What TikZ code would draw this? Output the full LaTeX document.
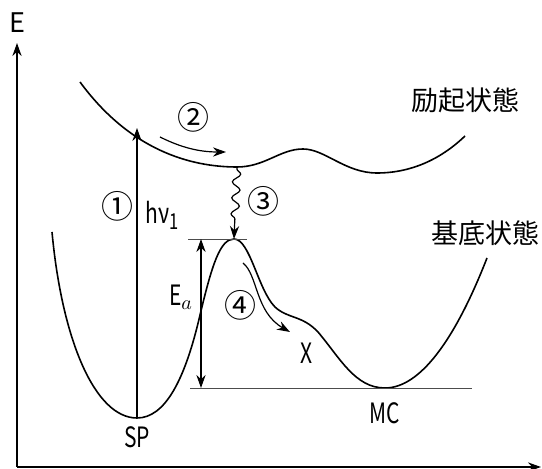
\documentclass[tikz,border=0pt]{standalone}
\usepackage{fontspec}
\setmainfont{Noto Sans CJK JP}
\newfontfamily\condfont[FakeStretch=0.75]{Noto Sans CJK JP}
\usetikzlibrary{arrows.meta,decorations.pathmorphing}

\tikzset{
  pes/.style={line width=0.8pt},
  guide/.style={line width=0.45pt, black!70},
  arr/.style={-{Stealth[length=6.5pt,width=4.6pt]}, line width=0.6pt},
  lbl/.style={font=\condfont\fontsize{14}{14}\selectfont, inner sep=0pt},
  circ/.style={font=\fontsize{16}{16}\selectfont, inner sep=0pt},
  statelbl/.style={font=\fontsize{13.5}{14}\selectfont, inner sep=0pt},
}

\begin{document}
\begin{tikzpicture}[x=0.5pt, y=-0.5pt]
    \useasboundingbox (0,0) rectangle (542,469);

    % axes
    \coordinate (O) at (17,467);
    \coordinate (Etop) at (17,43);
    \coordinate (Xend) at (541,467);
    \draw[arr, line width=0.8pt] (O) -- (Etop);
    \draw[arr, line width=0.8pt] (O) -- (Xend);
    \node[inner sep=0pt, font=\fontsize{13.5}{14}\selectfont] (E) at (17,23) {E};

    % excited state
    \draw[pes] (80,82) .. controls (130,150) and (190,167) .. (237,167)
        .. controls (265,167) and (280,149) .. (303,149)
        .. controls (325,149) and (345,173) .. (377,173)
        .. controls (410,173) and (440,160) .. (465,136);

    % ground state
    \draw[pes] (52,232) .. controls (62,340) and (95,418) .. (137,418)
        .. controls (165,418) and (185,380) .. (200,315)
        .. controls (212,265) and (220,239) .. (234,239)
        .. controls (250,239) and (258,290) .. (275,307)
        .. controls (288,319) and (302,315) .. (318,332)
        .. controls (340,358) and (355,388) .. (385,388)
        .. controls (420,388) and (455,340) .. (487,258);

    \coordinate (SP) at (137,418);
    \coordinate (MC) at (385,388);
    \coordinate (TS) at (234,239);
    \coordinate (Smin) at (237,167);

    % reference levels
    \draw[guide] (188,239) -- (247,239);
    \draw[guide] (190,388) -- (472,388);

    % (1) absorption
    \coordinate (hvtop) at (137,128);
    \draw[arr] (SP) -- (hvtop);
    \node[circ] (n1) at (117,206) {①};
    \node[lbl, anchor=base west] (hv) at (145,224) {hν\raisebox{-0.35ex}{\fontsize{11}{11}\selectfont 1}};

    % (2) relaxation on excited surface
    \coordinate (r2a) at (160,137);
    \coordinate (r2b) at (226,152);
    \draw[arr] (r2a) .. controls (182,148) and (200,152) .. (r2b);
    \node[circ] (n2) at (193,117) {②};

    % (3) nonradiative decay
    \draw[arr, decorate, decoration={snake, amplitude=2pt, segment length=8pt,
        pre length=1pt, post length=7pt}] (Smin) -- (TS);
    \node[circ] (n3) at (263,201) {③};

    % activation energy
    \coordinate (Eatop) at (201,239);
    \coordinate (Eabot) at (201,388);
    \draw[arr, {Stealth[length=6.5pt,width=4.6pt]}-{Stealth[length=6.5pt,width=4.6pt]}] (Eatop) -- (Eabot);
    \node[lbl] (Ea) at (181,297) {E$_{a}$};

    % (4) thermal path
    \coordinate (r4a) at (243,263);
    \coordinate (r4b) at (290,332);
    \draw[arr] (r4a) .. controls (258,275) and (255,312) .. (r4b);
    \node[circ] (n4) at (240,305) {④};

    % labels
    \node[lbl] (X) at (307,353) {X};
    \node[lbl] (MClbl) at (385,413) {MC};
    \node[lbl] (SPlbl) at (137,437) {SP};
    \node[statelbl] (exc) at (465,100) {励起状態};
    \node[statelbl] (gnd) at (485,233) {基底状態};
\end{tikzpicture}
\end{document}
